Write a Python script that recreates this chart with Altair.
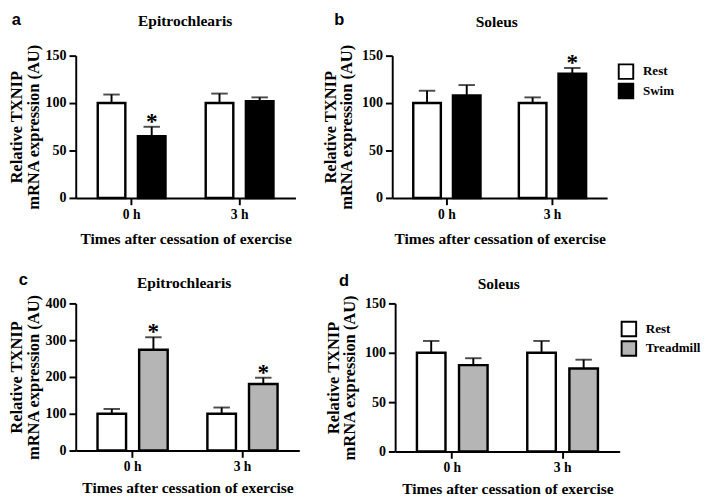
import altair as alt
import pandas as pd

times = ["0 h", "3 h"]

# Panel a: Epitrochlearis, swim
a_rest = [100, 100]
a_rest_err = [9, 10]
a_swim = [65, 102]
a_swim_err = [10, 4]
a_swim_sig = [True, False]

# Panel b: Soleus, swim
b_rest = [100, 100]
b_rest_err = [13, 6]
b_swim = [108, 131]
b_swim_err = [11, 6]
b_swim_sig = [False, True]

# Panel c: Epitrochlearis, treadmill
c_rest = [100, 100]
c_rest_err = [13, 17]
c_tread = [274, 181]
c_tread_err = [34, 17]
c_tread_sig = [True, True]

# Panel d: Soleus, treadmill
d_rest = [100, 100]
d_rest_err = [12, 12]
d_tread = [87.5, 84]
d_tread_err = [7, 9]
d_tread_sig = [False, False]

SERIF = "Liberation Serif"
SANS = "Liberation Sans"


def make_df(rest, rest_err, ex, ex_err, ex_sig, ex_name):
    rows = []
    for i, t in enumerate(times):
        rows.append({"time": t, "group": "Rest", "value": rest[i],
                     "hi": rest[i] + rest_err[i], "sig": False})
        rows.append({"time": t, "group": ex_name, "value": ex[i],
                     "hi": ex[i] + ex_err[i], "sig": ex_sig[i]})
    return pd.DataFrame(rows)


def panel(df, ex_name, ex_color, ymax, ystep, W, H, title, title_x, title_y,
          letter, letter_x, letter_y, legend, title_pad, xtitle_pad,
          bar_w, half_gap):
    groups = ["Rest", ex_name]
    x = alt.X("time:N", sort=times,
              scale=alt.Scale(type="band", paddingInner=0.365, paddingOuter=0.2),
              axis=alt.Axis(labelAngle=0, title="Times after cessation of exercise",
                            titleFontSize=16, titlePadding=xtitle_pad,
                            labelFontSize=14, labelPadding=3))
    yscale = alt.Scale(domain=[0, ymax], nice=False)
    yaxis = alt.Axis(values=list(range(0, ymax + 1, ystep)),
                     title=["Relative TXNIP", "mRNA expression (AU)"],
                     titleFontSize=17, titleLineHeight=17,
                     titlePadding=title_pad, labelFontSize=14.5,
                     labelPadding=3)
    if legend is None:
        fill_leg = None
    else:
        fill_leg = alt.Legend(title=None, orient="none", legendX=legend[0],
                              legendY=legend[1], symbolType="square",
                              symbolSize=225, symbolStrokeColor="black",
                              symbolStrokeWidth=2, labelFont=SERIF,
                              labelFontSize=13.5, labelFontWeight="bold",
                              labelColor="black", labelOffset=9,
                              rowPadding=legend[2], padding=0)
    fill = alt.Fill("group:N", sort=groups,
                    scale=alt.Scale(domain=groups, range=["#ffffff", ex_color]),
                    legend=fill_leg)
    layers = []
    for g, sign in zip(groups, [-1, 1]):
        off = sign * half_gap
        base = alt.Chart(df).transform_filter(alt.datum.group == g)
        layers.append(base.mark_rule(color="black", strokeWidth=2, xOffset=off).encode(
            x=x, y=alt.Y("value:Q", scale=yscale, axis=yaxis), y2="hi:Q"))
        layers.append(base.mark_tick(color="black", thickness=2, size=17,
                                     orient="horizontal", xOffset=off).encode(
            x=x, y=alt.Y("hi:Q", scale=yscale, axis=yaxis)))
        layers.append(base.mark_bar(stroke="black", strokeWidth=2.5, width=bar_w,
                                    xOffset=off).encode(
            x=x, y=alt.Y("value:Q", scale=yscale, axis=yaxis), fill=fill))
        layers.append(base.transform_filter("datum.sig").mark_text(
            text="*", font=SERIF, fontSize=24, fontWeight="bold", color="black",
            dy=2, baseline="alphabetic", xOffset=off).encode(
            x=x, y=alt.Y("hi:Q", scale=yscale, axis=yaxis)))
    ttl = alt.Chart(pd.DataFrame({"t": [title]})).mark_text(
        font=SERIF, fontSize=16, fontWeight="bold", color="black",
        align="center", baseline="alphabetic").encode(
        x=alt.value(title_x), y=alt.value(title_y), text="t:N")
    let = alt.Chart(pd.DataFrame({"t": [letter]})).mark_text(
        font=SANS, fontSize=17, fontWeight="bold", color="black",
        align="left", baseline="alphabetic").encode(
        x=alt.value(letter_x), y=alt.value(letter_y), text="t:N")
    return alt.layer(*layers, ttl, let).properties(width=W, height=H)


pa = panel(make_df(a_rest, a_rest_err, a_swim, a_swim_err, a_swim_sig, "Swim"),
           "Swim", "#000000", 150, 50, 227, 147, "Epitrochlearis", 113, -31,
           "a", -66, -32, None, 3, 10, 28.5, 20.75)
pb = panel(make_df(b_rest, b_rest_err, b_swim, b_swim_err, b_swim_sig, "Swim"),
           "Swim", "#000000", 150, 50, 222, 147, "Soleus", 108, -30,
           "b", -60, -32, (233, 8, -3), 6, 10, 28.5, 20.5)
pc = panel(make_df(c_rest, c_rest_err, c_tread, c_tread_err, c_tread_sig, "Treadmill"),
           "Treadmill", "#b5b5b5", 400, 100, 231, 152, "Epitrochlearis", 112, -16,
           "c", -59, -19, None, 3, 6, 29.5, 21.5)
pd_ = panel(make_df(d_rest, d_rest_err, d_tread, d_tread_err, d_tread_sig, "Treadmill"),
            "Treadmill", "#b5b5b5", 150, 50, 232, 153, "Soleus", 107, -15,
            "d", -58, -18, (233, 18, -6.5), 6, 6, 29.5, 21.75)

top = alt.hconcat(pa, pb, spacing=27).resolve_scale(fill="independent")
bottom = alt.hconcat(pc, pd_, spacing=26).resolve_scale(fill="independent")

chart = alt.vconcat(top, bottom, spacing=26).resolve_scale(
    fill="independent"
).properties(
    padding={"left": 0, "top": -5, "right": 0, "bottom": 0},
    background="white"
).configure_view(strokeWidth=0).configure_axis(
    domainColor="black", domainWidth=2, tickColor="black", tickWidth=2,
    tickSize=7, labelFont=SERIF, labelFontWeight="bold", labelColor="black",
    titleFont=SERIF, titleFontWeight="bold", titleColor="black", grid=False
)

chart.save("out.html", embed_options={"renderer": "svg", "actions": False})
